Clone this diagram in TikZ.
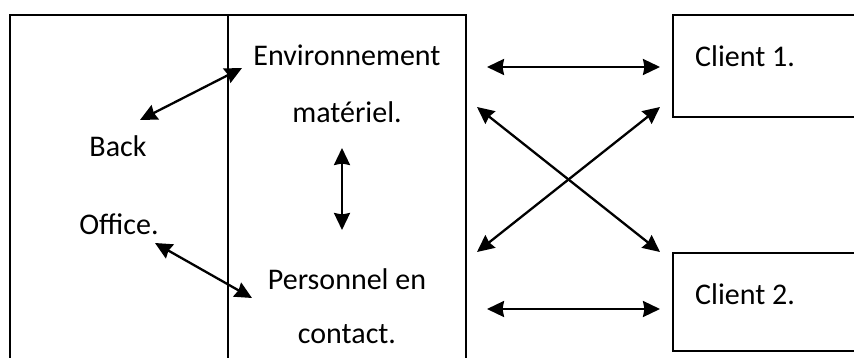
\documentclass[tikz,border=0pt]{standalone}
\usepackage{fontspec}
\setmainfont{Carlito}
\usetikzlibrary{arrows.meta}
\begin{document}
\begin{tikzpicture}[x=1pt,y=-1pt,
  frame/.style={line width=2pt},
  tip/.tip={Stealth[length=17pt,width=16pt,inset=1.5pt]},
  link/.style={line width=2.3pt,tip-tip},
  lbl/.style={inner sep=0pt,font=\fontsize{30}{30}\selectfont}]
\useasboundingbox (0,0) rectangle (854,358);
\fill[white] (0,0) rectangle (854,358);
% outer organisation frame, open at the bottom
\draw[frame] (10,370) -- (10,15) -- (466,15) -- (466,370);
\draw[frame] (228,15) -- (228,370);
% client boxes, open on the right
\draw[frame] (870,117) -- (673,117) -- (673,15) -- (870,15);
\draw[frame] (870,253) -- (673,253) -- (673,351) -- (870,351);
% labels
\node[lbl] (env) at (347,55) {Environnement};
\node[lbl] (mat) at (347,112) {matériel.};
\node[lbl] (back) at (118,146) {Back};
\node[lbl] (off) at (119,224) {Office.};
\node[lbl] (pers) at (347,279) {Personnel en};
\node[lbl] (cont) at (347,334) {contact.};
\node[lbl,anchor=west] (c1) at (695,56) {Client 1.};
\node[lbl,anchor=west] (c2) at (695,294) {Client 2.};
% arrow end points
\coordinate (e1) at (242,68);
\coordinate (b1) at (140,120);
\coordinate (o1) at (155,243);
\coordinate (p1) at (252,298);
\coordinate (v1) at (342,148);
\coordinate (v2) at (342,230);
\coordinate (h1a) at (487,67);
\coordinate (h1b) at (660,67);
\coordinate (h2a) at (487,309);
\coordinate (h2b) at (660,309);
\coordinate (xa) at (477,107);
\coordinate (xb) at (660,252);
\coordinate (ya) at (660,107);
\coordinate (yb) at (477,252);
% connectors
\draw[link] (e1) -- (b1);
\draw[link] (o1) -- (p1);
\draw[link] (v1) -- (v2);
\draw[link] (h1a) -- (h1b);
\draw[link] (h2a) -- (h2b);
\draw[link] (xa) -- (xb);
\draw[link] (ya) -- (yb);
\end{tikzpicture}
\end{document}
